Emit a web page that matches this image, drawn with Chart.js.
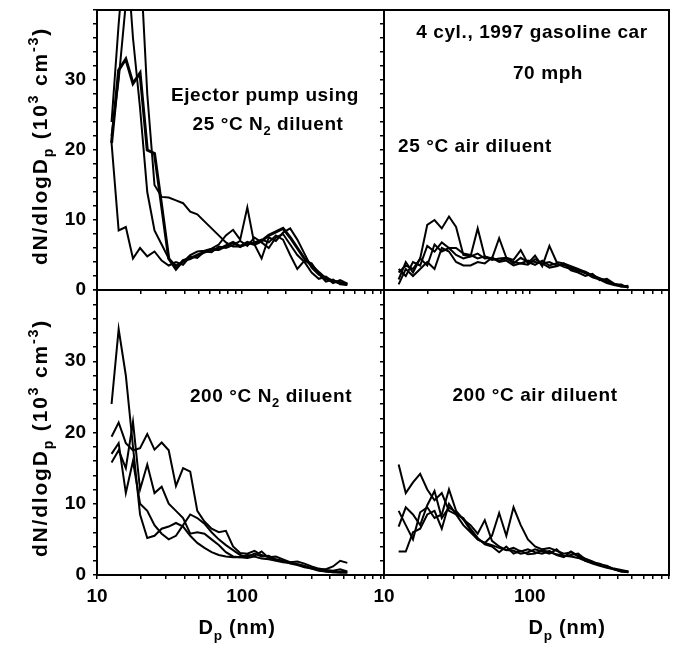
<!DOCTYPE html>
<html><head><meta charset="utf-8">
<script src="https://cdn.jsdelivr.net/npm/chart.js@4.4.1/dist/chart.umd.min.js"></script>
<style>
html,body{margin:0;padding:0;background:#fff;}
#wrap{position:relative;width:678px;height:646px;overflow:hidden;}
#wrap canvas{position:absolute;left:0;top:0;width:678px;height:646px;}
</style></head><body>
<div id="wrap">
<canvas id="cTL" width="678" height="646"></canvas>
<canvas id="cTR" width="678" height="646"></canvas>
<canvas id="cBL" width="678" height="646"></canvas>
<canvas id="cBR" width="678" height="646"></canvas>
</div>
<script>
// Particle diameters (nm), shared size channels
const sizes = [12.6, 14.1, 15.8, 17.7, 19.8, 22.2, 24.9, 27.9, 31.2, 35.0, 39.2, 43.9, 49.1, 55.0, 61.6, 69.0, 77.3, 86.6, 97.0, 108.6, 121.6, 136.2, 152.6, 170.9, 191.4, 214.4, 240.1, 268.9, 301.2, 337.3, 377.8, 423.2, 474.0, 530.9];

// Ejector pump, 25 °C N2 diluent (dN/dlogDp, 10^3 cm^-3)
const n2Cold1 = [21, 31.4, 33, 29.5, 31, 20, 19.5, 12, 4.5, 3.0, 4.2, 4.5, 5.0, 5.4, 5.8, 5.8, 6.3, 6.8, 6.2, 6.8, 6.5, 7.0, 7.8, 8.3, 8.8, 7.5, 6.0, 4.5, 3.5, 2.5, 1.6, 1.3, 1.0, 0.8];
const n2Cold2 = [24, 38, 50, 36, 26, 14, 8.5, 6.5, 4.5, 3.5, 4.0, 5.0, 5.5, 5.6, 5.9, 6.5, 7.8, 8.6, 7.2, 11.8, 6.5, 4.5, 7.5, 7.0, 8.2, 8.8, 7.2, 5.2, 3.2, 2.2, 1.8, 1.0, 1.4, 0.9];
const n2Cold3 = [22, 30, 41, 55, 48, 28, 15, 13.3, 13.2, 12.8, 12.4, 11.2, 10.8, 9.8, 8.8, 7.8, 6.8, 6.2, 6.2, 6.5, 6.8, 7.2, 6.8, 7.8, 7.2, 5.0, 3.0, 4.2, 3.8, 2.3, 1.2, 1.5, 0.8, 0.7];
const n2Cold4 = [21, 8.5, 9, 4.5, 6, 4.8, 5.5, 4.2, 3.5, 4.0, 3.6, 4.8, 4.6, 5.5, 5.4, 6.2, 6.0, 6.4, 7.0, 6.3, 7.5, 6.8, 6.0, 7.5, 8.0, 6.5, 5.0, 4.0, 2.5, 1.6, 1.9, 1.2, 1.1, 0.9];

// 25 °C air diluent
const airCold1 = [2.5, 3.5, 3.0, 4.5, 9.3, 10.0, 8.8, 10.5, 9.0, 5.0, 4.8, 5.2, 4.5, 4.6, 4.2, 4.5, 4.0, 3.8, 4.2, 4.0, 3.8, 4.0, 3.5, 3.6, 3.2, 2.8, 2.4, 1.8, 1.5, 1.0, 0.7, 0.5, 0.4];
const airCold2 = [1.5, 4.0, 2.5, 4.5, 3.5, 6.5, 5.5, 6.0, 5.0, 4.5, 4.8, 8.8, 4.8, 4.5, 7.4, 4.6, 4.3, 5.7, 3.8, 4.9, 3.4, 6.3, 4.0, 3.8, 3.4, 3.0, 2.6, 2.0, 1.6, 1.2, 0.9, 0.6, 0.4];
const airCold3 = [3.0, 2.0, 4.0, 3.5, 6.3, 5.5, 6.8, 6.0, 6.0, 5.2, 5.0, 4.5, 4.8, 4.3, 4.5, 4.6, 3.8, 4.6, 4.0, 3.6, 4.2, 3.5, 3.8, 3.3, 3.0, 2.7, 2.6, 2.1, 1.7, 1.3, 0.8, 0.8, 0.3];
const airCold4 = [0.8, 3.0, 2.0, 3.0, 4.0, 3.0, 6.0, 5.5, 4.0, 3.5, 3.5, 4.0, 3.8, 4.6, 4.0, 4.2, 3.5, 3.8, 3.6, 4.4, 3.8, 3.2, 3.4, 3.8, 2.8, 2.5, 2.0, 2.3, 1.4, 1.6, 0.9, 0.5, 0.6];

// 200 °C N2 diluent
const n2Hot1 = [24, 34.5, 28, 18, 8.5, 5.2, 5.5, 6.5, 6.8, 7.3, 6.8, 5.5, 4.5, 3.8, 3.2, 2.8, 2.6, 2.5, 2.5, 2.4, 2.6, 2.3, 2.2, 2.0, 1.8, 1.7, 1.5, 1.3, 0.9, 0.7, 0.5, 0.4, 0.5, 0.4];
const n2Hot2 = [19.4, 21.4, 18.5, 17.5, 17.8, 19.8, 17.6, 18.6, 17.5, 12.5, 15.0, 14.5, 9.0, 7.5, 6.5, 6.0, 6.2, 4.0, 3.1, 3.0, 3.4, 2.8, 2.5, 2.6, 2.2, 1.8, 1.9, 1.6, 1.2, 0.9, 0.7, 0.6, 0.8, 0.5];
const n2Hot3 = [15.8, 17.5, 15.0, 21.5, 12.0, 15.5, 11.5, 12.4, 10.0, 9.0, 8.0, 5.8, 6.0, 5.8, 5.0, 4.2, 3.2, 2.6, 2.5, 2.8, 2.7, 3.3, 2.4, 2.1, 1.9, 1.8, 1.5, 1.2, 1.0, 0.8, 0.8, 1.2, 2.0, 1.7];
const n2Hot4 = [17.0, 18.5, 11.5, 16.0, 10.0, 9.0, 7.0, 5.8, 5.0, 5.5, 7.0, 8.5, 8.0, 7.2, 6.0, 5.0, 4.2, 3.5, 2.8, 2.5, 3.0, 2.6, 2.7, 2.2, 2.0, 1.6, 1.4, 1.1, 0.9, 0.6, 0.5, 0.4, 0.3, 0.3];

// 200 °C air diluent
const airHot1 = [15.5, 11.5, 13.0, 14.2, 12.0, 10.5, 11.5, 9.0, 8.5, 7.0, 6.0, 5.0, 4.5, 5.5, 8.7, 5.5, 9.5, 7.0, 5.0, 4.0, 3.6, 3.8, 3.4, 3.0, 3.2, 2.6, 2.0, 1.6, 1.3, 1.0, 0.8, 0.5, 0.4];
const airHot2 = [9.0, 7.0, 5.0, 8.8, 9.5, 8.0, 8.5, 12.0, 9.0, 7.8, 6.3, 5.0, 4.5, 4.2, 3.8, 3.5, 3.4, 3.0, 3.2, 3.6, 3.3, 3.0, 3.6, 2.6, 2.8, 3.0, 2.2, 1.8, 1.6, 1.2, 0.9, 0.7, 0.5];
const airHot3 = [6.8, 9.5, 8.5, 7.0, 9.8, 11.8, 8.0, 9.5, 8.8, 7.8, 7.0, 5.8, 7.7, 4.8, 4.0, 3.5, 3.8, 3.3, 3.6, 3.2, 3.0, 3.4, 2.8, 2.5, 3.3, 2.7, 2.3, 1.9, 1.4, 1.3, 0.8, 0.6, 0.4];
const airHot4 = [3.3, 3.3, 6.0, 6.5, 8.5, 9.0, 6.5, 10.0, 8.5, 8.0, 6.5, 5.2, 4.3, 4.0, 3.2, 4.0, 3.0, 3.4, 2.9, 3.0, 3.5, 3.2, 2.9, 2.7, 2.6, 2.4, 2.0, 1.7, 1.5, 1.1, 0.8, 0.5, 0.5];

// Axis tick labels
const xTickLabels = [10, 100];
const yTickLabels = [0, 10, 20, 30];

const FONT = '"Liberation Sans", Arial, Helvetica, sans-serif';

function drawRich(ctx, parts, cx, by, size, spacing, rotate) {
  ctx.save();
  ctx.fillStyle = '#000';
  ctx.textBaseline = 'alphabetic';
  ctx.textAlign = 'left';
  try { ctx.letterSpacing = spacing + 'px'; } catch (e) {}
  const widths = parts.map(([t, m]) => {
    const s = m ? size * 0.68 : size;
    ctx.font = 'bold ' + s + 'px ' + FONT;
    return ctx.measureText(t).width;
  });
  const total = widths.reduce((a, b) => a + b, 0);
  ctx.translate(cx, by);
  if (rotate) ctx.rotate(-Math.PI / 2);
  let x = -total / 2;
  parts.forEach(([t, m], i) => {
    const s = m ? size * 0.68 : size;
    ctx.font = 'bold ' + s + 'px ' + FONT;
    const dy = m === 'sub' ? size * 0.28 : (m === 'sup' ? -size * 0.42 : 0);
    ctx.fillText(t, x, dy);
    x += widths[i];
  });
  ctx.restore();
}

function panelPlugin(texts) {
  return {
    id: 'panelDeco',
    afterDraw(chart) {
      const ctx = chart.ctx, a = chart.chartArea;
      ctx.save();
      ctx.strokeStyle = '#000';
      ctx.lineWidth = 2;
      ctx.strokeRect(a.left, a.top, a.right - a.left, a.bottom - a.top);
      ctx.restore();
      texts.forEach(t => drawRich(ctx, t.parts, t.x, t.y, t.size, t.sp, t.rot));
    }
  };
}

function makePanel(id, series, o) {
  const datasets = series.map((vals, k) => ({
    data: vals.map((v, i) => ({ x: sizes[i], y: v })),
    borderColor: '#000',
    borderWidth: (o.thick === k) ? 3 : 2,
    pointRadius: 0,
    tension: 0,
    fill: false,
    clip: 0
  }));
  const tickFont = { family: FONT, size: 19, weight: 'bold' };
  return new Chart(document.getElementById(id), {
    type: 'line',
    data: { datasets },
    options: {
      responsive: false,
      animation: false,
      devicePixelRatio: 1,
      layout: { padding: o.padding },
      plugins: { legend: { display: false }, tooltip: { enabled: false } },
      scales: {
        x: {
          type: 'logarithmic',
          min: 10,
          max: o.xmax,
          afterFit: s => { s.height = o.xHeight; s.paddingLeft = 0; s.paddingRight = 0; },
          border: { display: false },
          grid: { display: true, drawOnChartArea: false, drawTicks: true, tickLength: 4, color: '#000', lineWidth: 1.5 },
          ticks: {
            display: o.xLabels,
            autoSkip: false,
            maxRotation: 0,
            padding: 6,
            color: '#000',
            font: tickFont,
            callback: v => xTickLabels.some(t => Math.abs(t - v) < 1e-6) ? String(v) : ''
          }
        },
        y: {
          min: 0,
          max: 40,
          afterFit: s => { s.width = o.yWidth; s.paddingTop = 0; s.paddingBottom = 0; },
          border: { display: false },
          grid: { display: true, drawOnChartArea: false, drawTicks: true, tickLength: 4, color: '#000', lineWidth: 1.5 },
          ticks: {
            display: o.yLabels,
            stepSize: 2,
            autoSkip: false,
            padding: 7,
            color: '#000',
            font: tickFont,
            callback: v => yTickLabels.includes(v) ? String(v) : ''
          }
        }
      }
    },
    plugins: [panelPlugin(o.texts)]
  });
}

const yTitle = [['dN/dlogD', ''], ['p', 'sub'], [' (10', ''], ['3', 'sup'], [' cm', ''], ['-3', 'sup'], [')', '']];
const xTitle = [['D', ''], ['p', 'sub'], [' (nm)', '']];

makePanel('cTL', [n2Cold1, n2Cold2, n2Cold3, n2Cold4], {
  padding: { left: 0, top: 10, right: 294, bottom: 352 },
  xmax: 950, xHeight: 4, yWidth: 97, xLabels: false, yLabels: true, thick: 0,
  texts: [
    { parts: [['Ejector pump using', '']], x: 265, y: 101, size: 19, sp: 0.6 },
    { parts: [['25 °C N', ''], ['2', 'sub'], [' diluent', '']], x: 268, y: 130, size: 19, sp: 0.6 },
    { parts: yTitle, x: 47, y: 146, size: 21, sp: 1.8, rot: true }
  ]
});
makePanel('cTR', [airCold1, airCold2, airCold3, airCold4], {
  padding: { left: 380, top: 10, right: 9, bottom: 352 },
  xmax: 900, xHeight: 4, yWidth: 4, xLabels: false, yLabels: false,
  texts: [
    { parts: [['4 cyl., 1997 gasoline car', '']], x: 532, y: 38, size: 19, sp: 0.6 },
    { parts: [['70 mph', '']], x: 548, y: 79, size: 19, sp: 0.6 },
    { parts: [['25 °C air diluent', '']], x: 475, y: 152, size: 19, sp: 0.6 }
  ]
});
makePanel('cBL', [n2Hot1, n2Hot2, n2Hot3, n2Hot4], {
  padding: { left: 0, top: 290, right: 294, bottom: 0 },
  xmax: 950, xHeight: 71, yWidth: 97, xLabels: true, yLabels: true,
  texts: [
    { parts: [['200 °C N', ''], ['2', 'sub'], [' diluent', '']], x: 271, y: 402, size: 19, sp: 0.6 },
    { parts: yTitle, x: 47, y: 438, size: 21, sp: 1.8, rot: true },
    { parts: xTitle, x: 237, y: 634, size: 20, sp: 0.8 }
  ]
});
makePanel('cBR', [airHot1, airHot2, airHot3, airHot4], {
  padding: { left: 380, top: 290, right: 9, bottom: 0 },
  xmax: 900, xHeight: 71, yWidth: 4, xLabels: true, yLabels: false,
  texts: [
    { parts: [['200 °C air diluent', '']], x: 535, y: 401, size: 19, sp: 0.6 },
    { parts: xTitle, x: 567, y: 634, size: 20, sp: 0.8 }
  ]
});
</script>
</body></html>
